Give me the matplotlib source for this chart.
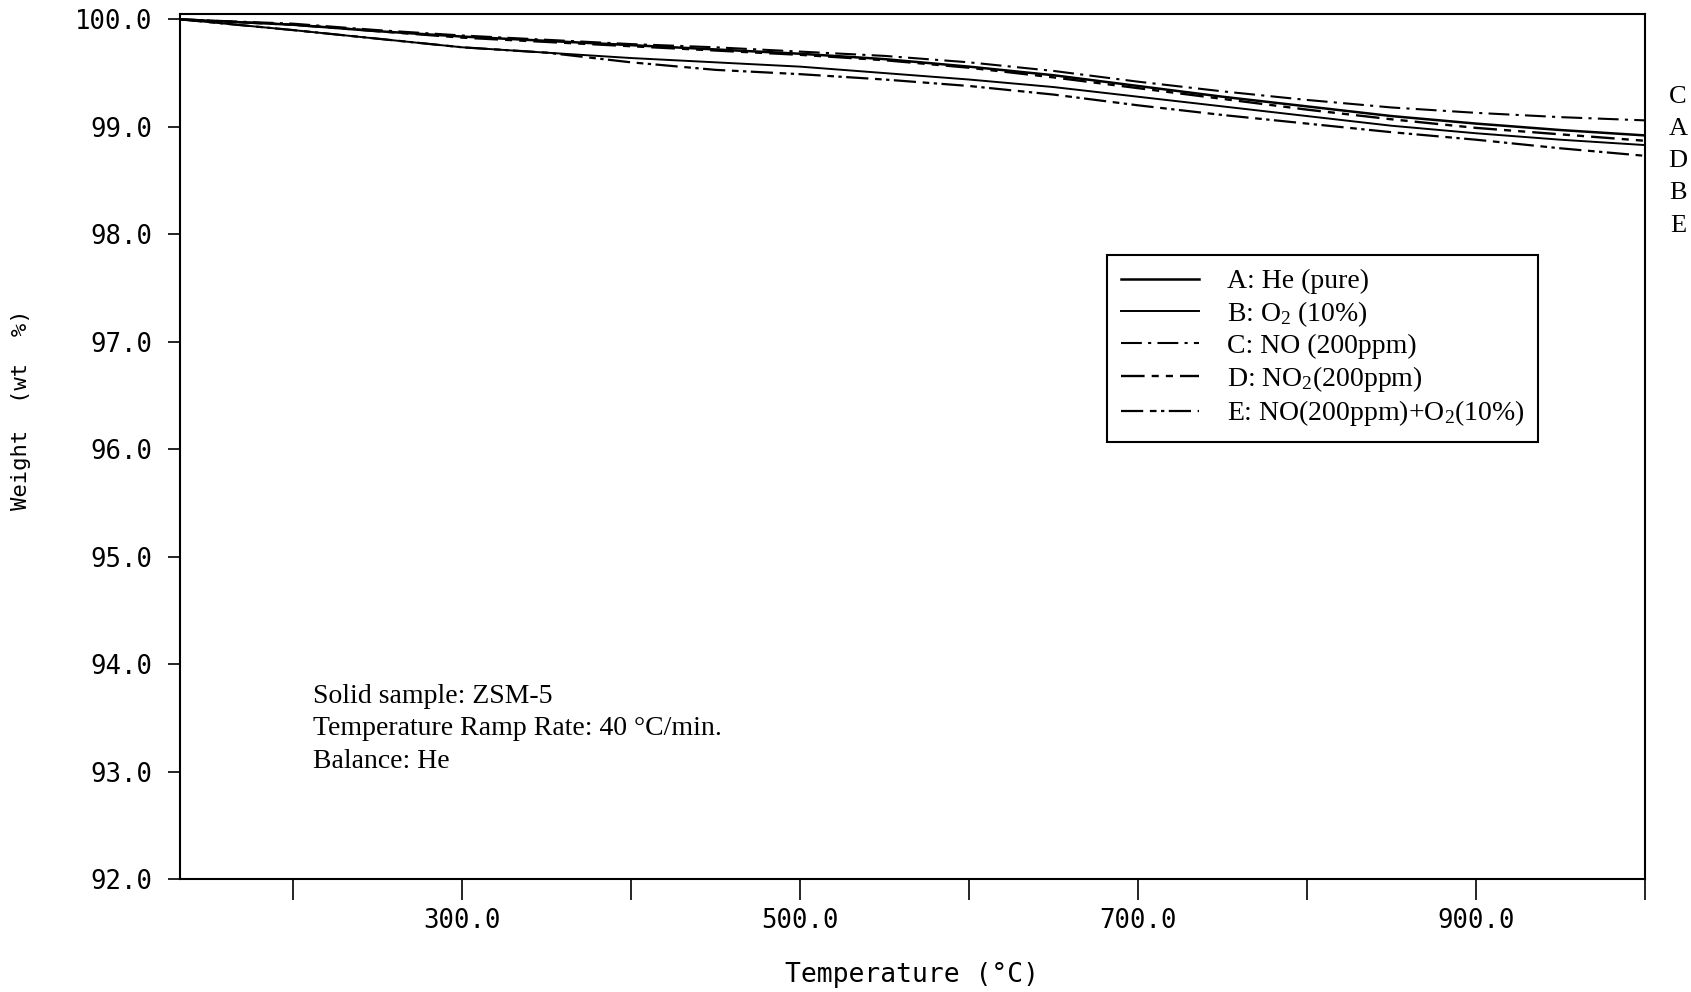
import matplotlib
matplotlib.use('Agg')
import matplotlib.pyplot as plt

# values (wt %)
temp = [133, 200, 250, 300, 350, 400, 450, 500, 550, 600, 650, 700, 750, 800, 850, 900, 950, 1000]
w_a = [100.00, 99.95, 99.89, 99.84, 99.80, 99.76, 99.72, 99.68, 99.63, 99.56, 99.48, 99.38, 99.28, 99.19, 99.10, 99.03, 98.97, 98.92]
w_b = [100.00, 99.90, 99.82, 99.74, 99.69, 99.64, 99.60, 99.56, 99.50, 99.44, 99.37, 99.28, 99.19, 99.10, 99.01, 98.94, 98.88, 98.83]
w_c = [100.00, 99.96, 99.90, 99.85, 99.81, 99.77, 99.74, 99.70, 99.66, 99.60, 99.52, 99.42, 99.33, 99.25, 99.18, 99.13, 99.09, 99.06]
w_d = [100.00, 99.95, 99.89, 99.83, 99.79, 99.75, 99.71, 99.67, 99.62, 99.55, 99.46, 99.36, 99.26, 99.16, 99.07, 98.99, 98.93, 98.87]
w_e = [100.00, 99.90, 99.82, 99.74, 99.69, 99.60, 99.53, 99.49, 99.44, 99.38, 99.30, 99.20, 99.11, 99.03, 98.95, 98.88, 98.80, 98.73]

labels = ["A: He (pure)",
          r"B: O$_\mathrm{2}$ (10%)",
          "C: NO (200ppm)",
          r"D: NO$_\mathrm{2}$(200ppm)",
          r"E: NO(200ppm)+O$_\mathrm{2}$(10%)"]
end_letters = ["C", "A", "D", "B", "E"]
xticks = [200, 300, 400, 500, 600, 700, 800, 900, 1000]
xticklabels = ["", "300.0", "", "500.0", "", "700.0", "", "900.0", ""]
yticks = [92, 93, 94, 95, 96, 97, 98, 99, 100]

plt.rcParams['font.family'] = ['DejaVu Sans Mono', 'DejaVu Sans']
plt.rcParams['mathtext.fontset'] = 'custom'
plt.rcParams['mathtext.rm'] = 'Liberation Serif'
plt.rcParams['mathtext.it'] = 'Liberation Serif:italic'

fig = plt.figure(figsize=(16.91, 9.92), dpi=100)
ax = fig.add_axes([0.1064, 0.1139, 0.8664, 0.8720])

styles = ['-', '-', (0, (10, 3, 1.5, 3)), (0, (10, 3, 3, 3, 3, 3)), (0, (10, 3, 3, 2, 1.5, 2))]
widths = [1.8, 1.4, 1.5, 1.7, 1.6]
for w, lab, ls, lw in zip([w_a, w_b, w_c, w_d, w_e], labels, styles, widths):
    ax.plot(temp, w, color='black', linestyle=ls, linewidth=lw, label=lab)

ax.set_xlim(133, 1000)
ax.set_ylim(92, 100.05)
ax.set_xticks(xticks)
ax.set_xticklabels(xticklabels)
ax.set_yticks(yticks)
ax.set_yticklabels([f"{v:.1f}" for v in yticks])
ax.tick_params(axis='x', direction='out', length=15, width=1.2, pad=6, labelsize=18.5)
ax.tick_params(axis='y', direction='out', length=9, width=1.2, pad=11, labelsize=18.5)
for s in ax.spines.values():
    s.set_linewidth(1.5)

ax.set_xlabel("Temperature (°C)", fontsize=19, labelpad=20)
ax.set_ylabel("Weight  (wt  %)", fontsize=16)
ax.yaxis.set_label_coords(-0.1015, 0.542)

leg = ax.legend(loc='upper left', bbox_to_anchor=(0.633, 0.7214), borderaxespad=0,
                prop={'family': 'Liberation Serif', 'size': 20}, handlelength=2.8,
                handletextpad=1.0, labelspacing=0.17, borderpad=0.5,
                fancybox=False, edgecolor='black', framealpha=1)
leg.get_frame().set_linewidth(1.5)

ax.text(0.0908, 0.226, "Solid sample: ZSM-5\nTemperature Ramp Rate: 40 °C/min.\nBalance: He",
        transform=ax.transAxes, family='Liberation Serif', fontsize=20,
        ha='left', va='top', linespacing=1.4)
ax.text(1.0225, 0.917, "\n".join(end_letters), transform=ax.transAxes,
        family='Liberation Serif', fontsize=19, ha='center', va='top', linespacing=1.6)

fig.savefig('out.png', dpi=100)
